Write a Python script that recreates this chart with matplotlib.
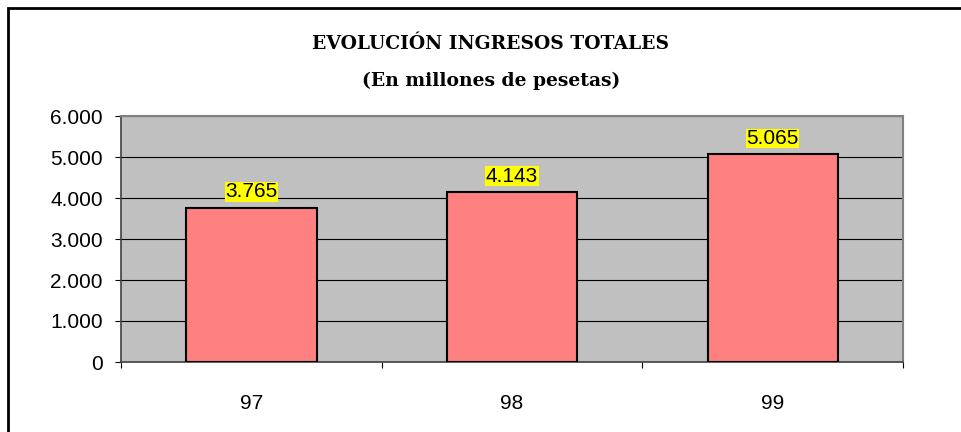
import matplotlib.pyplot as plt
from matplotlib.patches import Rectangle

# data
years = ['97', '98', '99']
ingresos = [3765, 4143, 5065]
y_ticks = [0, 1000, 2000, 3000, 4000, 5000, 6000]

W, H = 962, 432
fig = plt.figure(figsize=(W / 100, H / 100), dpi=100)
fig.patch.set_facecolor('white')

# outer chart border (runs off the right and bottom edge)
fig.patches.append(Rectangle((8 / W, -0.1), 1.2, (H - 8) / H + 0.1, transform=fig.transFigure,
                             fill=False, edgecolor='black', linewidth=2.0, zorder=0))

ax = fig.add_axes([121 / W, (H - 362) / H, 782 / W, 246 / H])
ax.set_facecolor('#c0c0c0')

x = list(range(len(years)))
ax.bar(x, ingresos, width=0.5, color='#ff8080', edgecolor='black', linewidth=1.5, zorder=3)

for xi, v in zip(x, ingresos):
    lbl = '{:,}'.format(v).replace(',', '.')
    ax.annotate(lbl, (xi, v), xytext=(0, 7.5), textcoords='offset points', ha='center', va='baseline',
                fontsize=15, family='Liberation Sans', zorder=5,
                bbox=dict(facecolor='#ffff00', edgecolor='none', pad=0.3))

ax.set_xlim(-0.5, 2.5)
ax.set_ylim(0, 6000)
ax.set_yticks(y_ticks)
ax.set_yticklabels(['{:,}'.format(t).replace(',', '.') for t in y_ticks], family='Liberation Sans', fontsize=15)
ax.yaxis.grid(True, color='black', linewidth=0.8, zorder=1)
ax.set_axisbelow(True)

ax.set_xticks([-0.5, 0.5, 1.5, 2.5])
ax.set_xticklabels([])
ax.set_xticks(x, minor=True)
ax.set_xticklabels(years, minor=True, family='Liberation Sans', fontsize=15)
ax.tick_params(axis='x', which='minor', length=0, pad=23)
ax.tick_params(axis='x', which='major', direction='out', length=4, width=0.8, color='black')
ax.tick_params(axis='y', direction='out', length=4, width=0.8, pad=9, color='black')

for s in ['top', 'right']:
    ax.spines[s].set_color('#808080')
    ax.spines[s].set_linewidth(1.5)
for s in ['left', 'bottom']:
    ax.spines[s].set_color('#404040')
    ax.spines[s].set_linewidth(1.2)

fig.text(491 / W, 1 - 44 / H, 'EVOLUCIÓN INGRESOS TOTALES', ha='center', va='center',
         fontsize=13.5, fontweight='bold', family='DejaVu Serif')
fig.text(491 / W, 1 - 81 / H, '(En millones de pesetas)', ha='center', va='center',
         fontsize=13.5, fontweight='bold', family='DejaVu Serif')

fig.savefig('out.png', dpi=100)
